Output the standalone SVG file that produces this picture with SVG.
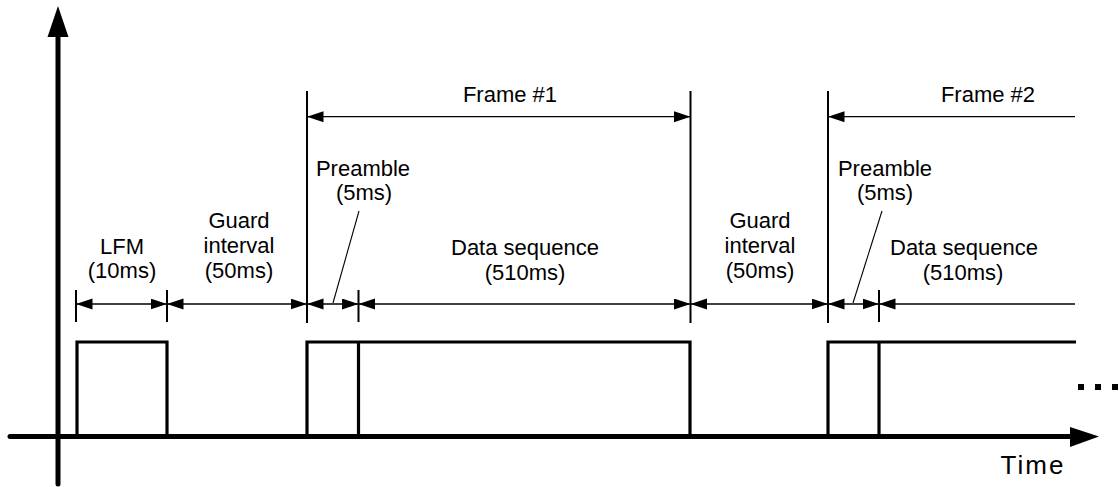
<svg xmlns="http://www.w3.org/2000/svg" width="1119" height="487" viewBox="0 0 1119 487">
  <style>
    text { font-family: "Liberation Sans", Arial, sans-serif; font-size: 22px; fill: #000; text-anchor: middle; }
    .axis { stroke: #000; stroke-width: 5; fill: none; stroke-linecap: round; }
    .pulse { stroke: #000; stroke-width: 3.2; fill: none; stroke-linejoin: miter; }
    .tick { stroke: #000; stroke-width: 2; fill: none; }
    .dim { stroke: #000; stroke-width: 1.3; fill: none; }
    .both { marker-start: url(#ah); marker-end: url(#ah); }
    .start { marker-start: url(#ah); }
    .leader { stroke: #000; stroke-width: 1.1; fill: none; }
  </style>
  <defs>
    <marker id="ah" markerUnits="userSpaceOnUse" markerWidth="17" markerHeight="12" refX="16.5" refY="5.5" orient="auto-start-reverse">
      <path d="M0,0 L16.5,5.5 L0,11 Z" fill="#000"/>
    </marker>
  </defs>

  <g id="axes">
    <line class="axis" x1="58" y1="34" x2="58" y2="484"/>
    <polygon points="58,6 47.5,37 68.5,37" fill="#000"/>
    <line class="axis" x1="10" y1="436.5" x2="1072" y2="436.5"/>
    <polygon points="1099,436.5 1070,427 1070,447" fill="#000"/>
    <text x="1032" y="474" style="font-size:26px" textLength="63" lengthAdjust="spacing">Time</text>
  </g>

  <g id="lfm">
    <path class="pulse" d="M77,436 V342 H167 V436"/>
    <text x="122" y="254">LFM</text>
    <text x="122" y="278">(10ms)</text>
  </g>

  <g id="guard1">
    <text x="239" y="227.5">Guard</text>
    <text x="239" y="253">interval</text>
    <text x="239" y="278">(50ms)</text>
  </g>

  <g id="frame1">
    <path class="pulse" d="M307,436 V342 H690 V436"/>
    <line class="pulse" x1="358.5" y1="342" x2="358.5" y2="436"/>
    <text x="510" y="102">Frame #1</text>
  </g>

  <g id="preamble1">
    <text x="363" y="176">Preamble</text>
    <text x="364" y="200">(5ms)</text>
  </g>

  <g id="data1">
    <text x="525" y="255">Data sequence</text>
    <text x="525" y="280">(510ms)</text>
  </g>

  <g id="guard2">
    <text x="760" y="227.5">Guard</text>
    <text x="760" y="253">interval</text>
    <text x="760" y="278">(50ms)</text>
  </g>

  <g id="frame2">
    <path class="pulse" d="M828,436 V342 H1076"/>
    <line class="pulse" x1="879" y1="342" x2="879" y2="436"/>
    <text x="988" y="102">Frame #2</text>
  </g>

  <g id="preamble2">
    <text x="885" y="176">Preamble</text>
    <text x="885" y="200">(5ms)</text>
  </g>

  <g id="data2">
    <text x="964" y="255">Data sequence</text>
    <text x="963" y="280">(510ms)</text>
  </g>

  <g id="continuation">
    <rect x="1078" y="384" width="6" height="6" fill="#000"/>
    <rect x="1095" y="384" width="6" height="6" fill="#000"/>
    <rect x="1112" y="384" width="6" height="6" fill="#000"/>
  </g>

  <g id="connectors">
    <line class="tick" x1="76" y1="290" x2="76" y2="322"/>
    <line class="tick" x1="167" y1="290" x2="167" y2="322"/>
    <line class="tick" x1="307" y1="91" x2="307" y2="323"/>
    <line class="tick" x1="358.5" y1="290" x2="358.5" y2="322"/>
    <line class="tick" x1="690.5" y1="91" x2="690.5" y2="323"/>
    <line class="tick" x1="828" y1="91" x2="828" y2="323"/>
    <line class="tick" x1="879" y1="290" x2="879" y2="322"/>
    <line class="dim both" x1="307" y1="116.7" x2="690.5" y2="116.7"/>
    <line class="dim start" x1="828" y1="116.7" x2="1075" y2="116.7"/>
    <line class="dim both" x1="76" y1="304" x2="167" y2="304"/>
    <line class="dim both" x1="167" y1="304" x2="307" y2="304"/>
    <line class="dim both" x1="307" y1="304" x2="358.5" y2="304"/>
    <line class="dim both" x1="358.5" y1="304" x2="690.5" y2="304"/>
    <line class="dim both" x1="690.5" y1="304" x2="828" y2="304"/>
    <line class="dim both" x1="828" y1="304" x2="879" y2="304"/>
    <line class="dim start" x1="879" y1="304" x2="1075" y2="304"/>
    <line class="leader" x1="359" y1="211" x2="333" y2="303"/>
    <line class="leader" x1="882" y1="211" x2="853" y2="303"/>
  </g>
</svg>
